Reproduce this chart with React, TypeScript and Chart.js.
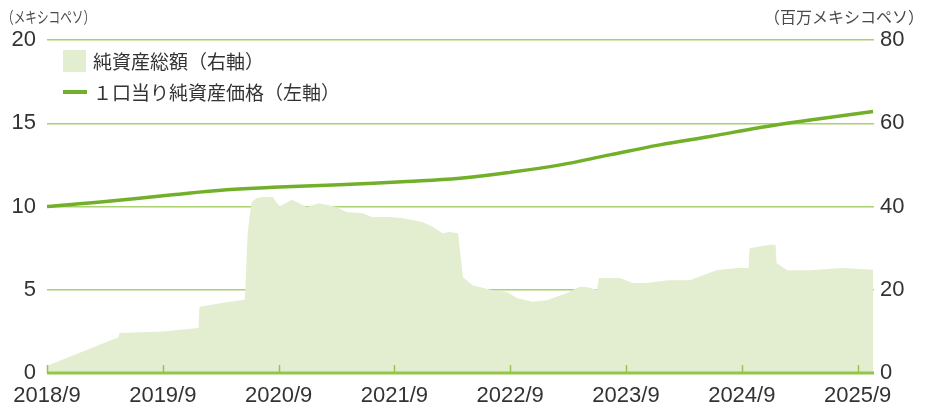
import React, { useEffect, useRef } from "react";
import { Chart, registerables } from "chart.js";

Chart.register(...registerables);

// ---- data ----
const xTickMonths = [0, 12, 24, 36, 48, 60, 72, 84]; // months since 2018/9
const xTickLabels = ["2018/9", "2019/9", "2020/9", "2021/9", "2022/9", "2023/9", "2024/9", "2025/9"];

const leftTicks = [0, 5, 10, 15, 20];
const rightTicks = [0, 20, 40, 60, 80];

// 純資産総額 (million MXN, right axis)
const assetMonths = [
  0.1, 7.4, 7.5, 12, 15.7, 15.8, 17.5, 19.5, 20.5, 20.8, 21.2, 21.7, 22.3, 23.4, 24.1, 25.4,
  26.9, 28.2, 30.0, 31.0, 32.7, 33.7, 35.5, 36.9, 38.9, 40.0, 41.0, 41.7, 42.6, 43.1, 44.1,
  46.2, 47.6, 48.7, 50.3, 51.8, 53.9, 55.2, 56.0, 57.0, 57.2, 59.4, 60.7, 62.2, 64.3, 66.6,
  69.4, 71.5, 72.7, 72.8, 74.9, 75.5, 75.6, 76.7, 79.1, 82.5, 85.6,
];
const assetValues = [
  1.8, 8.6, 9.6, 10.0, 10.8, 15.9, 16.6, 17.3, 17.6, 34.0, 41.0, 42.0, 42.3, 42.3, 40.0, 41.6,
  39.9, 40.8, 39.9, 38.7, 38.4, 37.5, 37.5, 37.2, 36.3, 35.1, 33.6, 33.9, 33.6, 23.0, 21.1,
  19.9, 19.5, 18.0, 17.1, 17.5, 19.2, 20.7, 20.6, 20.0, 22.8, 22.8, 21.6, 21.6, 22.3, 22.3,
  24.7, 25.2, 25.2, 30.0, 30.8, 30.8, 26.4, 24.7, 24.7, 25.2, 24.8,
];

// 1口当り純資産価格 (MXN, left axis)
const navMonths = [0, 6.1, 13, 18.6, 23.4, 30.3, 37.3, 42.8, 48, 53.2, 58.3, 63.5, 68.7, 73.9, 79.1, 85.6];
const navValues = [10.0, 10.3, 10.7, 11.0, 11.15, 11.3, 11.5, 11.7, 12.05, 12.5, 13.1, 13.7, 14.2, 14.75, 15.2, 15.7];

const assetLabel = "純資産総額（右軸）";
const navLabel = "１口当り純資産価格（左軸）";
const leftTitle = "（メキシコペソ）";
const rightTitle = "（百万メキシコペソ）";

// ---- styles ----
const LINE_COLOR = "#72b02a";
const AREA_COLOR = "#e3eed0";
const GRID_COLOR = "#a9d16f";
const BASE_COLOR = "#92c64a";
const TEXT_COLOR = "#333333";
const NUM_FONT = "'Liberation Sans', Arial, sans-serif";
const JP_FONT = "'Noto Sans CJK JP', sans-serif";

export default function App() {
  const ref = useRef<HTMLCanvasElement | null>(null);

  useEffect(() => {
    document.body.style.margin = "0";
    if (!ref.current) return;

    const overlay = {
      id: "overlay",
      afterDatasetsDraw(chart: any) {
        const ctx = chart.ctx;
        const area = chart.chartArea;
        const xs = chart.scales.x;
        ctx.save();
        // baseline
        ctx.strokeStyle = BASE_COLOR;
        ctx.lineWidth = 3;
        ctx.beginPath();
        ctx.moveTo(area.left, area.bottom);
        ctx.lineTo(area.right, area.bottom);
        ctx.stroke();
        // tick marks
        ctx.lineWidth = 1.5;
        xTickMonths.forEach((m) => {
          const px = Math.round(xs.getPixelForValue(m)) + 0.5;
          ctx.beginPath();
          ctx.moveTo(px, area.bottom);
          ctx.lineTo(px, area.bottom - 8);
          ctx.stroke();
        });
        ctx.restore();
      },
      afterDraw(chart: any) {
        const ctx = chart.ctx;
        const ds = chart.data.datasets;
        ctx.save();
        // legend
        ctx.fillStyle = ds[1].backgroundColor;
        ctx.fillRect(63, 50, 23, 22);
        ctx.strokeStyle = ds[0].borderColor;
        ctx.lineWidth = 4;
        ctx.beginPath();
        ctx.moveTo(63, 92);
        ctx.lineTo(87, 92);
        ctx.stroke();
        ctx.fillStyle = TEXT_COLOR;
        ctx.font = `19px ${JP_FONT}`;
        ctx.textBaseline = "middle";
        ctx.textAlign = "left";
        ctx.fillText(ds[1].label, 93, 62);
        ctx.fillText(ds[0].label, 93, 93);
        // axis titles
        ctx.font = `16px ${JP_FONT}`;
        ctx.fillStyle = "#4a4a4a";
        ctx.textAlign = "left";
        ctx.fillText(leftTitle, 2, 17, 93);
        ctx.textAlign = "right";
        ctx.fillText(rightTitle, 924, 17, 160);
        ctx.restore();
      },
    };

    const chart = new Chart(ref.current, {
      type: "line",
      data: {
        datasets: [
          {
            label: navLabel,
            data: navMonths.map((m, i) => ({ x: m, y: navValues[i] })),
            borderColor: LINE_COLOR,
            borderWidth: 3.5,
            pointRadius: 0,
            tension: 0.4,
            fill: false,
            yAxisID: "y",
            order: 1,
          },
          {
            label: assetLabel,
            data: assetMonths.map((m, i) => ({ x: m, y: assetValues[i] })),
            borderWidth: 0,
            borderColor: AREA_COLOR,
            backgroundColor: AREA_COLOR,
            pointRadius: 0,
            tension: 0,
            fill: "origin",
            yAxisID: "y1",
            order: 2,
          },
        ],
      },
      options: {
        responsive: false,
        animation: false,
        events: [],
        layout: { padding: { top: 40, left: 0, right: 0, bottom: 0 } },
        plugins: {
          legend: { display: false },
          tooltip: { enabled: false },
          title: { display: false },
        },
        scales: {
          x: {
            type: "linear",
            min: 0,
            max: 85.7,
            afterBuildTicks: (s: any) => {
              s.ticks = xTickMonths.map((v) => ({ value: v }));
            },
            afterFit: (s: any) => {
              s.height = 39;
            },
            grid: { display: false, drawTicks: false },
            border: { display: false },
            ticks: {
              autoSkip: false,
              maxRotation: 0,
              padding: 10,
              color: TEXT_COLOR,
              font: { family: NUM_FONT, size: 22 },
              callback: (v: any) => {
                const i = xTickMonths.indexOf(Number(v));
                return i >= 0 ? xTickLabels[i] : "";
              },
            },
          },
          y: {
            type: "linear",
            position: "left",
            min: 0,
            max: 20,
            afterBuildTicks: (s: any) => {
              s.ticks = leftTicks.map((v) => ({ value: v }));
            },
            afterFit: (s: any) => {
              s.width = 47;
            },
            grid: { color: GRID_COLOR, lineWidth: 1.5, drawTicks: false },
            border: { display: false },
            ticks: {
              padding: 11,
              color: TEXT_COLOR,
              font: { family: NUM_FONT, size: 22 },
            },
          },
          y1: {
            type: "linear",
            position: "right",
            min: 0,
            max: 80,
            afterBuildTicks: (s: any) => {
              s.ticks = rightTicks.map((v) => ({ value: v }));
            },
            afterFit: (s: any) => {
              s.width = 52;
            },
            grid: { drawOnChartArea: false, drawTicks: false },
            border: { display: false },
            ticks: {
              padding: 6,
              color: TEXT_COLOR,
              font: { family: NUM_FONT, size: 22 },
            },
          },
        },
      },
      plugins: [overlay],
    } as any);

    return () => chart.destroy();
  }, []);

  return <canvas ref={ref} width={926} height={412} style={{ display: "block" }} />;
}
